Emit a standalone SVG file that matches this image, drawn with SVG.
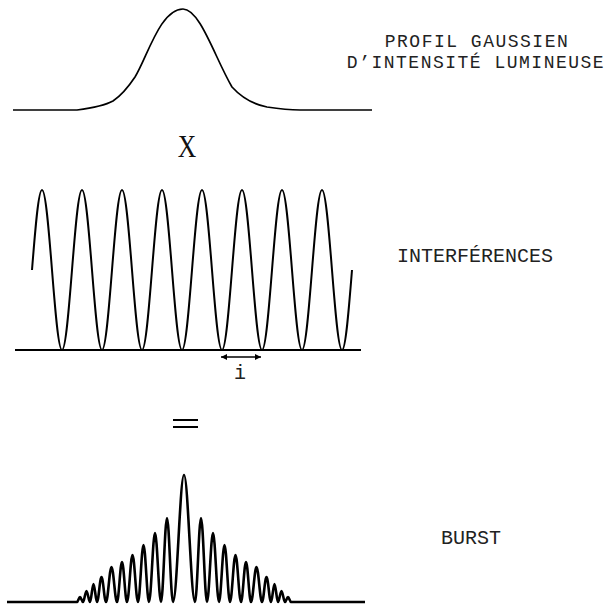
<svg xmlns="http://www.w3.org/2000/svg" width="610" height="608" viewBox="0 0 610 608">
<style>
.curve{fill:none;stroke:#000;stroke-linejoin:round;stroke-linecap:butt}
.lbl{font-family:"Liberation Mono","DejaVu Sans Mono",monospace;font-size:20px;fill:#222;text-anchor:middle}
.ttl{font-size:18px;letter-spacing:1.5px}
.op{font-family:"Liberation Serif","DejaVu Serif",serif;fill:#111;text-anchor:middle}
</style>
<defs>
<marker id="ah" viewBox="0 0 10 10" refX="10" refY="5" markerWidth="7" markerHeight="6" markerUnits="userSpaceOnUse" orient="auto-start-reverse">
<path d="M0,0 L10,5 L0,10 z" fill="#000"/>
</marker>
</defs>
<rect width="610" height="608" fill="#fff"/>
<g id="gaussian">
<path class="curve" stroke-width="1.7" d="M13,110 L77,110 C92,108 104,106 113,101 C122,95 129,86 135,77 C147,58 160,9 183,9 C200,9 215,58 232,87 C242,98 252,104 267,107 C280,109 290,110 300,110 L372,110"/>
<text class="lbl ttl" x="477" y="46.5">PROFIL GAUSSIEN</text>
<text class="lbl ttl" x="476" y="67.5">D’INTENSITÉ LUMINEUSE</text>
</g>
<g id="times">
<text class="op" x="187" y="157" font-size="32" transform="translate(187,0) scale(0.8,1) translate(-187,0)">X</text>
</g>
<g id="interference">
<path class="curve" stroke-width="2" d="M15,350 L361,350"/>
<path class="curve" stroke-width="2" d="M32,270 C35.3,228.5 38.4,190 42,190 C49.27,190 54.73,350 62,350 S74.73,190 82,190 S94.73,350 102,350 S114.73,190 122,190 S134.73,350 142,350 S154.73,190 162,190 S174.73,350 182,350 S194.73,190 202,190 S214.73,350 222,350 S234.73,190 242,190 S254.73,350 262,350 S274.73,190 282,190 S294.73,350 302,350 S314.73,190 322,190 S334.73,350 342,350 C345.6,350 348.7,311.5 352,270"/>
<text class="lbl" x="475" y="262">INTERFÉRENCES</text>
<text class="lbl" x="240" y="379">i</text>
</g>
<g id="connectors">
<line x1="221" y1="357" x2="261" y2="357" stroke="#000" stroke-width="1.5" marker-start="url(#ah)" marker-end="url(#ah)"/>
</g>
<g id="equals">
<line x1="173" y1="420" x2="198" y2="420" stroke="#000" stroke-width="2"/>
<line x1="173" y1="427" x2="198" y2="427" stroke="#000" stroke-width="2"/>
</g>
<g id="burst">
<path class="curve" stroke-width="2.6" d="M7,602 L77,602 C78.09,602 78.91,597 80,597 C81.09,597 81.91,602 83,602 C84.27,602 85.23,591 86.5,591 C87.77,591 88.73,602 90,602 C91.27,602 92.23,584 93.5,584 C94.77,584 95.73,602 97,602 C98.64,602 99.86,577 101.5,577 C103.14,577 104.36,602 106,602 C108,602 109.5,567 111.5,567 C113.5,567 115,602 117,602 C118.82,602 120.18,562 122,562 C123.82,562 125.18,602 127,602 C129,602 130.5,555 132.5,555 C134.5,555 136,602 138,602 C140,602 141.5,545 143.5,545 C145.5,545 147,602 149,602 C151.18,602 152.82,533 155,533 C157.18,533 158.82,602 161,602 C163.18,602 164.82,518 167,518 C169.18,518 170.82,602 173,602 C177,602 180,475 184,475 C188,475 191,602 195,602 C197.18,602 198.82,518 201,518 C203.18,518 204.82,602 207,602 C209.18,602 210.82,533 213,533 C215.18,533 216.82,602 219,602 C221,602 222.5,545 224.5,545 C226.5,545 228,602 230,602 C232,602 233.5,555 235.5,555 C237.5,555 239,602 241,602 C242.82,602 244.18,562 246,562 C247.82,562 249.18,602 251,602 C253,602 254.5,567 256.5,567 C258.5,567 260,602 262,602 C263.64,602 264.86,577 266.5,577 C268.14,577 269.36,602 271,602 C272.27,602 273.23,584 274.5,584 C275.77,584 276.73,602 278,602 C279.27,602 280.23,591 281.5,591 C282.77,591 283.73,602 285,602 C286.09,602 286.91,597 288,597 C289.09,597 289.91,602 291,602 L365,602"/>
<text class="lbl" x="471" y="544">BURST</text>
</g>
</svg>
